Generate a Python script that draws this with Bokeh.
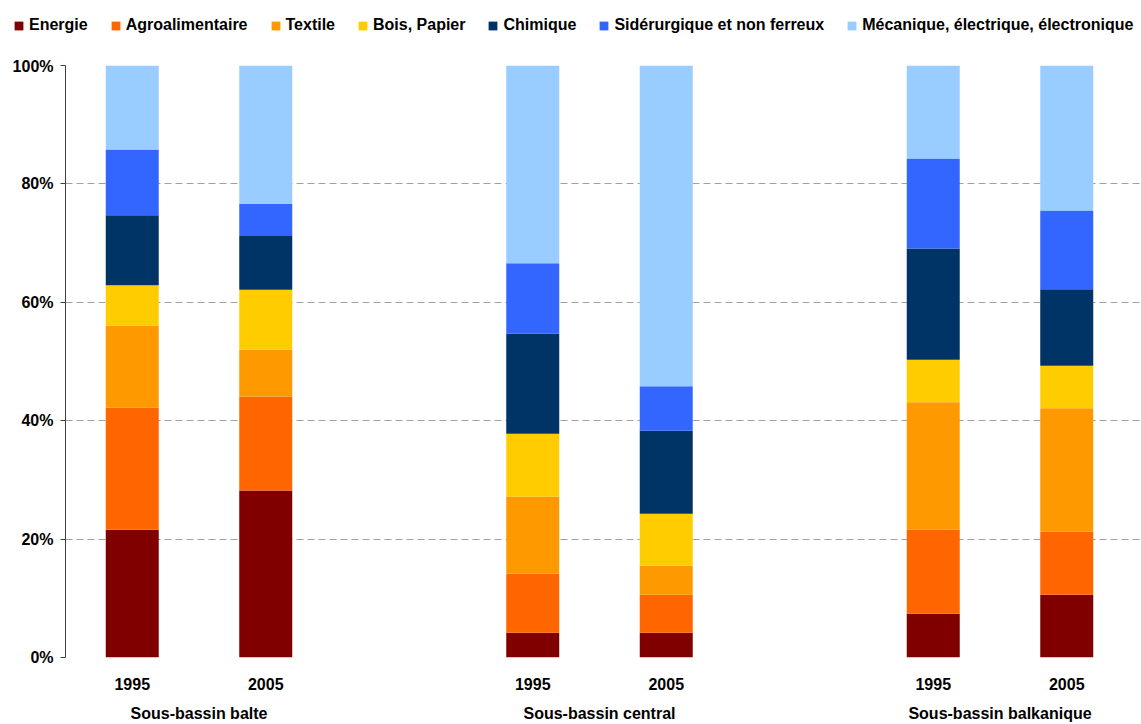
from bokeh.plotting import figure
from bokeh.layouts import column, row
from bokeh.models import (ColumnDataSource, Range1d, FixedTicker, LinearAxis,
                          PrintfTickFormatter, Legend)
from bokeh.embed import file_html
from bokeh.resources import INLINE

groups = ["Sous-bassin balte", "Sous-bassin central", "Sous-bassin balkanique"]
years = ["1995", "2005"]
sectors = ["Energie", "Agroalimentaire", "Textile", "Bois, Papier", "Chimique",
           "Sidérurgique et non ferreux", "Mécanique, électrique, électronique"]
colors = ["#800000", "#FF6600", "#FF9900", "#FFCC00", "#003366", "#3366FF", "#99CCFF"]

# values (%) in bar order: balte 1995, balte 2005, central 1995, central 2005, balkanique 1995, balkanique 2005
energie = [21.6, 28.2, 4.2, 4.2, 7.4, 10.6]
agro = [20.6, 15.9, 10.0, 6.4, 14.2, 10.7]
textile = [13.9, 7.9, 13.0, 4.9, 21.5, 20.8]
bois = [6.8, 10.1, 10.6, 8.8, 7.2, 7.2]
chimique = [11.8, 9.1, 16.9, 14.0, 18.8, 12.9]
siderurgie = [11.1, 5.4, 11.9, 7.5, 15.2, 13.3]
mecanique = [14.2, 23.4, 33.4, 54.2, 15.7, 24.5]

series = [energie, agro, textile, bois, chimique, siderurgie, mecanique]

# layout: each group = 2 bars + 1 gap slot (units of 2)
bar_x = [g * 6 + yi * 2 + 1 for g in range(len(groups)) for yi in range(len(years))]
bar_year = [y for g in groups for y in years]
group_x = [g * 6 + 2 for g in range(len(groups))]

data = {"x": bar_x}
for name, vals in zip(sectors, series):
    data[name] = vals
source = ColumnDataSource(data)

FONT = "Liberation Sans"
FS = "16px"
LEG_H = 57

p = figure(width=1141, height=724 - LEG_H, output_backend="svg", toolbar_location=None,
           x_range=Range1d(0, 1076 / 66.75), y_range=Range1d(0, 100),
           min_border_left=65, min_border_right=0, min_border_top=65 - LEG_H,
           min_border_bottom=0)
p.outline_line_color = None
p.background_fill_color = "white"
p.border_fill_color = "white"

renderers = p.vbar_stack(sectors, x="x", width=0.794, source=source, color=colors,
                         line_color=None)

# grid
p.xgrid.visible = False
p.ygrid.ticker = FixedTicker(ticks=[0, 20, 40, 60, 80, 100])
p.ygrid.grid_line_color = "#A0A0A0"
p.ygrid.grid_line_dash = "7 4"
p.ygrid.grid_line_width = 1

# y axis
ya = p.yaxis[0]
ya.ticker = FixedTicker(ticks=[0, 20, 40, 60, 80, 100])
ya.formatter = PrintfTickFormatter(format="%d%%")
ya.axis_line_color = "#404040"
ya.major_tick_line_color = "#404040"
ya.major_tick_out = 5
ya.major_tick_in = 0
ya.minor_tick_line_color = None
ya.major_label_standoff = 7
ya.major_label_text_font = FONT
ya.major_label_text_font_style = "bold"
ya.major_label_text_font_size = FS
ya.major_label_text_color = "black"

# x axis: years
xa = p.xaxis[0]
xa.ticker = FixedTicker(ticks=bar_x)
xa.major_label_overrides = {x: y for x, y in zip(bar_x, bar_year)}
xa.axis_line_color = None
xa.major_tick_line_color = None
xa.minor_tick_line_color = None
xa.major_label_standoff = 14
xa.major_label_text_font = FONT
xa.major_label_text_font_style = "bold"
xa.major_label_text_font_size = FS
xa.major_label_text_color = "black"

# x axis: groups
ga = LinearAxis(ticker=FixedTicker(ticks=group_x),
                major_label_overrides={x: g for x, g in zip(group_x, groups)})
ga.axis_line_color = None
ga.major_tick_line_color = None
ga.minor_tick_line_color = None
ga.major_label_standoff = 6
ga.major_label_text_font = FONT
ga.major_label_text_font_style = "bold"
ga.major_label_text_font_size = FS
ga.major_label_text_color = "black"
p.add_layout(ga, "below")

# legend strip (separate figure so the legend can extend left of the plot frame)
lf = figure(width=1141, height=LEG_H, output_backend="svg", toolbar_location=None,
            x_range=Range1d(-100, -99), y_range=Range1d(0, 1),
            x_axis_location=None, y_axis_location=None,
            min_border_left=0, min_border_right=0, min_border_top=0, min_border_bottom=0)
lf.outline_line_color = None
lf.grid.visible = False
lf.background_fill_color = "white"
lf.border_fill_color = "white"
# same stacked series, drawn out of view: only their legend swatches show
leg_renderers = lf.vbar_stack(sectors, x="x", width=0.794, source=source, color=colors,
                              line_color=None)

legend = Legend(items=[(name, [r]) for name, r in zip(sectors, leg_renderers)],
                orientation="horizontal", location=(13, 23),
                padding=0, margin=0, spacing=22, label_standoff=5,
                glyph_width=11, glyph_height=11, label_height=18,
                label_text_font=FONT, label_text_font_style="bold",
                label_text_font_size=FS, label_text_color="black",
                background_fill_alpha=0, border_line_color=None)
lf.add_layout(legend, "center")

layout = column(row(lf), p, spacing=0)
open("out.html", "w").write(file_html(layout, INLINE))
